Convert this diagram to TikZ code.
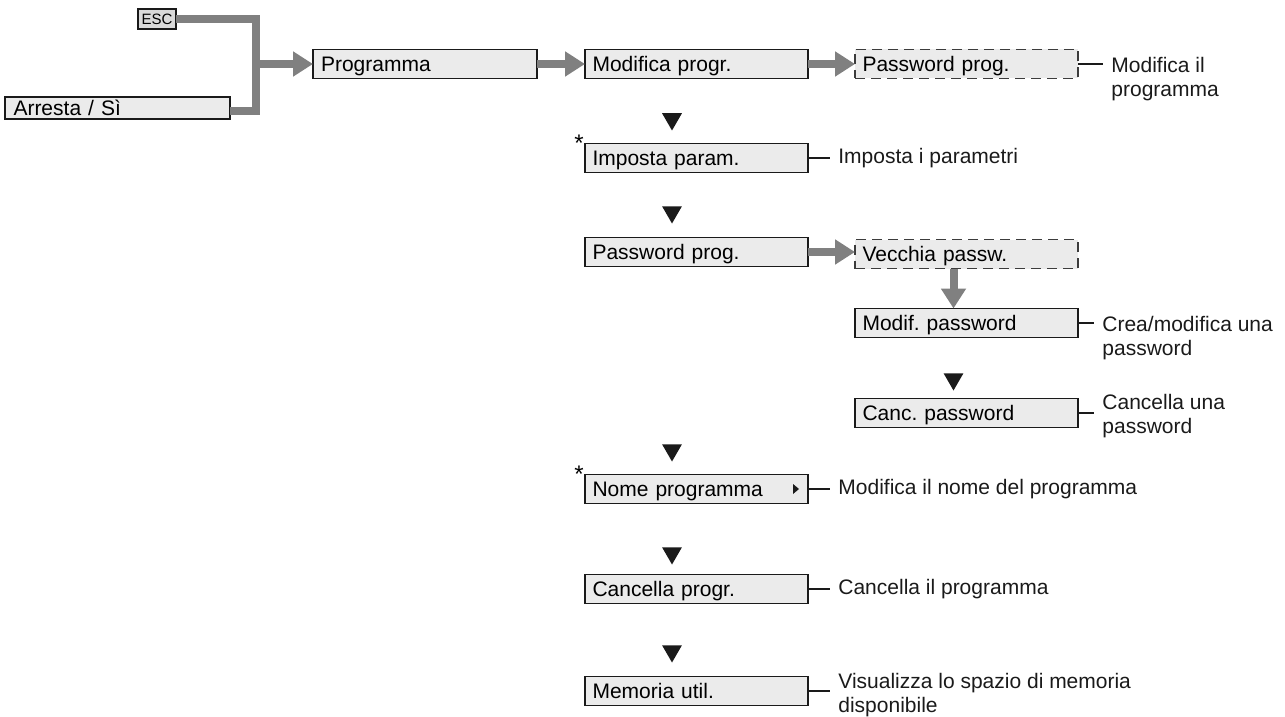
\documentclass[tikz,border=0pt]{standalone}
\usepackage{fontspec}
\setsansfont{Liberation Sans}
\usetikzlibrary{arrows.meta,positioning,shapes.geometric}
\definecolor{cBox}{HTML}{EBEBEB}
\definecolor{cEsc}{HTML}{D9D9D9}
\definecolor{cArrow}{HTML}{808080}
\definecolor{cInk}{HTML}{1A1A1A}
\tikzset{
  font=\sffamily,
  menu/.style={draw=cInk, line width=0.85pt, outer sep=0pt, fill=cBox, minimum width=111.5pt, minimum height=14.5pt, text width=104pt, align=left, inner xsep=3.5pt, inner ysep=0pt, text height=8.5pt, text depth=1pt, font=\sffamily\fontsize{10.5}{12}\selectfont\frenchspacing},
  hidden/.style={menu, draw=cInk!85, dash pattern=on 5pt off 3pt},
  gline/.style={draw=cArrow, line width=4pt},
  gflow/.style={gline, -{Triangle[length=10pt, width=12pt]}},
  stub/.style={draw=cInk, line width=1pt},
  desc/.style={font=\sffamily\fontsize{10.5}{12}\selectfont, align=left, inner xsep=4pt, inner ysep=0pt, text=cInk},
  keydown/.style={regular polygon, regular polygon sides=3, shape border rotate=180, fill=cInk, inner sep=0pt, outer sep=0pt, minimum size=11.5pt},
  starsym/.style={font=\sffamily\fontsize{12}{12}\selectfont, inner sep=0pt, anchor=base east},
}
\begin{document}
\begin{tikzpicture}[x=0.5pt, y=-0.5pt]
\useasboundingbox (0,0) rectangle (1285,717);
% entry
\node[menu, fill=cEsc, minimum width=19pt, minimum height=10pt, text width=, align=center, inner sep=0pt, text height=6pt, text depth=0.5pt, font=\sffamily\fontsize{7.5}{8}\selectfont] (esc) at (157,19) {ESC};
\node[menu, anchor=west, minimum width=112.5pt, minimum height=11pt] (arresta) at (5,108) {Arresta / Sì};
\node[menu, anchor=west, minimum width=112pt] (programma) at (313,64) {Programma};
\coordinate (jn) at (256,64);
\draw[gline] (esc.east) -| (jn) |- ([yshift=-1.5pt]arresta.east);
\draw[gflow] (jn) -- (programma);
% main column
\node[menu, right=24pt of programma] (modifica) {Modifica progr.};
\node[hidden, right=23.5pt of modifica] (pw1) {Password prog.};
\node[menu, below=32.5pt of modifica] (imposta) {Imposta param.};
\node[menu, below=32.5pt of imposta] (pw2) {Password prog.};
\node[menu, below=104pt of pw2] (nome) {Nome programma};
\node[menu, below=35.5pt of nome] (cancella) {Cancella progr.};
\node[menu, below=36.5pt of cancella] (memoria) {Memoria util.};
\draw[gflow] (programma) -- (modifica);
\draw[gflow] (modifica) -- (pw1);
% password branch
\node[hidden, right=23.5pt of pw2, yshift=-1pt] (vecchia) {Vecchia passw.};
\node[menu, below=20pt of vecchia] (modifpw) {Modif. password};
\node[menu, below=30.5pt of modifpw] (cancpw) {Canc. password};
\draw[gflow] (pw2) -- (pw2 -| vecchia.west);
\draw[gflow] ([xshift=-6.5pt]vecchia.south) -- ([xshift=-6.5pt]modifpw.north);
% down keys
\node[keydown, above=6.5pt of imposta.north, xshift=-12.25pt] (k1) {};
\node[keydown, above=7pt of pw2.north, xshift=-12.25pt] (k2) {};
\node[keydown, above=4pt of cancpw.north, xshift=-6.5pt] (k3) {};
\node[keydown, above=6.5pt of nome.north, xshift=-12.25pt] (k4) {};
\node[keydown, above=5pt of cancella.north, xshift=-12.25pt] (k5) {};
\node[keydown, above=7pt of memoria.north, xshift=-12.25pt] (k6) {};
\node[starsym] (star1) at ([xshift=-0.5pt, yshift=-3.8pt]imposta.north west) {*};
\node[starsym] (star2) at ([xshift=-0.5pt, yshift=-3.8pt]nome.north west) {*};
\fill[cInk] ([xshift=-7.5pt, yshift=2.5pt]nome.east) -- ([xshift=-4.5pt]nome.east) -- ([xshift=-7.5pt, yshift=-2.5pt]nome.east) -- cycle;
% descriptions
\node[desc, right=12.5pt of pw1.east, anchor=north west, yshift=3.8pt] (dPw1) {Modifica il\\programma};
\node[desc, right=11pt of imposta] (dImposta) {Imposta i parametri};
\node[desc, right=8pt of modifpw.east, anchor=north west, yshift=3.8pt] (dModifpw) {Crea/modifica una\\password};
\node[desc, right=8pt of cancpw, yshift=-1.3pt] (dCancpw) {Cancella una\\password};
\node[desc, right=11pt of nome] (dNome) {Modifica il nome del programma};
\node[desc, right=11pt of cancella] (dCancella) {Cancella il programma};
\node[desc, right=11pt of memoria, yshift=-1.8pt] (dMemoria) {Visualizza lo spazio di memoria\\disponibile};
\draw[stub] (pw1.east) -- (pw1.east -| dPw1.west);
\draw[stub] (imposta) -- (imposta -| dImposta.west);
\draw[stub] (modifpw.east) -- (modifpw.east -| dModifpw.west);
\draw[stub] (cancpw) -- (cancpw -| dCancpw.west);
\draw[stub] (nome) -- (nome -| dNome.west);
\draw[stub] (cancella) -- (cancella -| dCancella.west);
\draw[stub] (memoria) -- (memoria -| dMemoria.west);
\end{tikzpicture}
\end{document}
